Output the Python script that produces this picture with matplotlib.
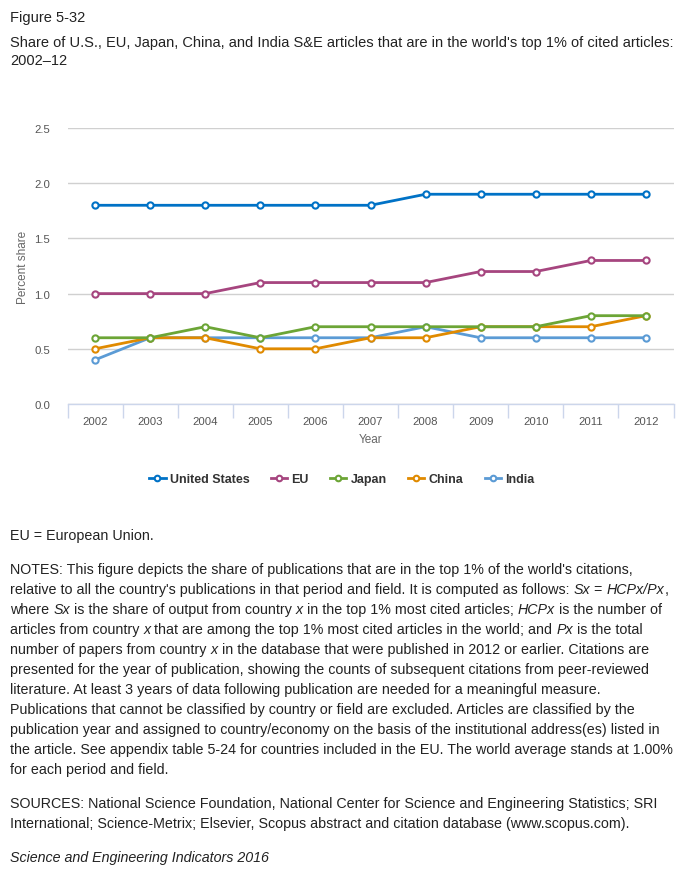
import matplotlib
matplotlib.use("Agg")
import matplotlib.pyplot as plt
from matplotlib.lines import Line2D

plt.rcParams['font.family'] = ['Liberation Sans', 'DejaVu Sans']

years = ["2002", "2003", "2004", "2005", "2006", "2007", "2008", "2009", "2010", "2011", "2012"]
series_names = ["United States", "EU", "Japan", "China", "India"]
us = [1.8, 1.8, 1.8, 1.8, 1.8, 1.8, 1.9, 1.9, 1.9, 1.9, 1.9]
eu = [1.0, 1.0, 1.0, 1.1, 1.1, 1.1, 1.1, 1.2, 1.2, 1.3, 1.3]
japan = [0.6, 0.6, 0.7, 0.6, 0.7, 0.7, 0.7, 0.7, 0.7, 0.8, 0.8]
china = [0.5, 0.6, 0.6, 0.5, 0.5, 0.6, 0.6, 0.7, 0.7, 0.7, 0.8]
india = [0.4, 0.6, 0.6, 0.6, 0.6, 0.6, 0.7, 0.6, 0.6, 0.6, 0.6]
yticks = [0.0, 0.5, 1.0, 1.5, 2.0, 2.5]
colors = ["#0072c6", "#a6457f", "#6ca536", "#e08a00", "#5b9bd5"]

W, H = 684, 870
fig = plt.figure(figsize=(W / 100, H / 100), dpi=100)

def fx(px):
    return px / W

def fy(py):
    return 1 - py / H

ax = fig.add_axes([fx(67.5), fy(405), fx(673.5) - fx(67.5), fy(129) - fy(405)])
x = list(range(len(years)))
for vals, c in zip([us, eu, japan, china, india][::-1], colors[::-1]):
    ax.plot(x, vals, color=c, lw=2, marker='o', ms=4.5, mfc='white', mec=c, mew=1.5, zorder=3)

ax.set_xlim(-0.5, len(years) - 0.5)
ax.set_ylim(0, 2.5)
ax.set_yticks(yticks)
ax.set_yticklabels([f"{v:.1f}" for v in yticks])
ax.set_xticks(x)
ax.set_xticklabels(years)
ax.set_xticks([i - 0.5 for i in range(len(years) + 1)], minor=True)
ax.tick_params(axis='x', which='major', length=0, pad=9, labelsize=8.2, colors='#555555')
ax.tick_params(axis='x', which='minor', length=10, width=1, color='#ccd6eb')
ax.tick_params(axis='y', length=0, pad=12.5, labelsize=8.2, colors='#555555')
ax.grid(axis='y', color='#d0d0d0', lw=1)
ax.set_axisbelow(True)
for s in ['top', 'right', 'left']:
    ax.spines[s].set_visible(False)
ax.spines['bottom'].set_color('#ccd6eb')
ax.spines['bottom'].set_linewidth(1)
ax.set_xlabel("Year", fontsize=8.5, color='#666666', labelpad=5)
ax.set_ylabel("Percent share", fontsize=8.5, color='#666666', labelpad=4)

handles = [Line2D([0], [0], color=c, lw=2, marker='o', ms=4, mfc='white', mec=c, mew=1.5) for c in colors]
fig.legend(handles, series_names, loc='center', bbox_to_anchor=(0.5, fy(480)), ncol=5, frameon=False,
           handlelength=1.3, handletextpad=0.35, columnspacing=1.7,
           prop={'weight': 'bold', 'size': 9}, labelcolor='#333333')

fs = 10.5
fsn = 10.3
tc = '#222222'
fig.text(fx(10), fy(22), "Figure 5-32", fontsize=fs, color=tc, va='baseline')
fig.text(fx(10), fy(47), "Share of U.S., EU, Japan, China, and India S&E articles that are in the world's top 1% of cited articles:", fontsize=fs, color=tc, va='baseline')
fig.text(fx(10), fy(65), "2002\u201312", fontsize=fs, color=tc, va='baseline')

fig.text(fx(10), fy(540), "EU = European Union.", fontsize=fsn, color=tc, va='baseline')

I = True
R = False
notes = [
    [("NOTES: This figure depicts the share of publications that are in the top 1% of the world's citations,", R)],
    [("relative to all the country's publications in that period and field. It is computed as follows: ", R), ("Sx", I), (" = ", R), ("HCPx/Px", I), (",", R)],
    [("where ", R), ("Sx", I), (" is the share of output from country ", R), ("x", I), (" in the top 1% most cited articles; ", R), ("HCPx", I), (" is the number of", R)],
    [("articles from country ", R), ("x", I), (" that are among the top 1% most cited articles in the world; and ", R), ("Px", I), (" is the total", R)],
    [("number of papers from country ", R), ("x", I), (" in the database that were published in 2012 or earlier. Citations are", R)],
    [("presented for the year of publication, showing the counts of subsequent citations from peer-reviewed", R)],
    [("literature. At least 3 years of data following publication are needed for a meaningful measure.", R)],
    [("Publications that cannot be classified by country or field are excluded. Articles are classified by the", R)],
    [("publication year and assigned to country/economy on the basis of the institutional address(es) listed in", R)],
    [("the article. See appendix table 5-24 for countries included in the EU. The world average stands at 1.00%", R)],
    [("for each period and field.", R)],
]

renderer = fig.canvas.get_renderer()

def rich_line(segs, px, py):
    cur = px
    for txt, it in segs:
        t = fig.text(fx(cur), fy(py), txt, fontsize=fsn, color=tc, va='baseline',
                     style='italic' if it else 'normal')
        bb = t.get_window_extent(renderer)
        cur += bb.width

base = 574
for i, segs in enumerate(notes):
    rich_line(segs, 10, base + i * 20)

fig.text(fx(10), fy(808), "SOURCES: National Science Foundation, National Center for Science and Engineering Statistics; SRI", fontsize=fsn, color=tc, va='baseline')
fig.text(fx(10), fy(828), "International; Science-Metrix; Elsevier, Scopus abstract and citation database (www.scopus.com).", fontsize=fsn, color=tc, va='baseline')
fig.text(fx(10), fy(862), "Science and Engineering Indicators 2016", fontsize=fsn, color=tc, va='baseline', style='italic')

fig.savefig("out.png", dpi=100)
